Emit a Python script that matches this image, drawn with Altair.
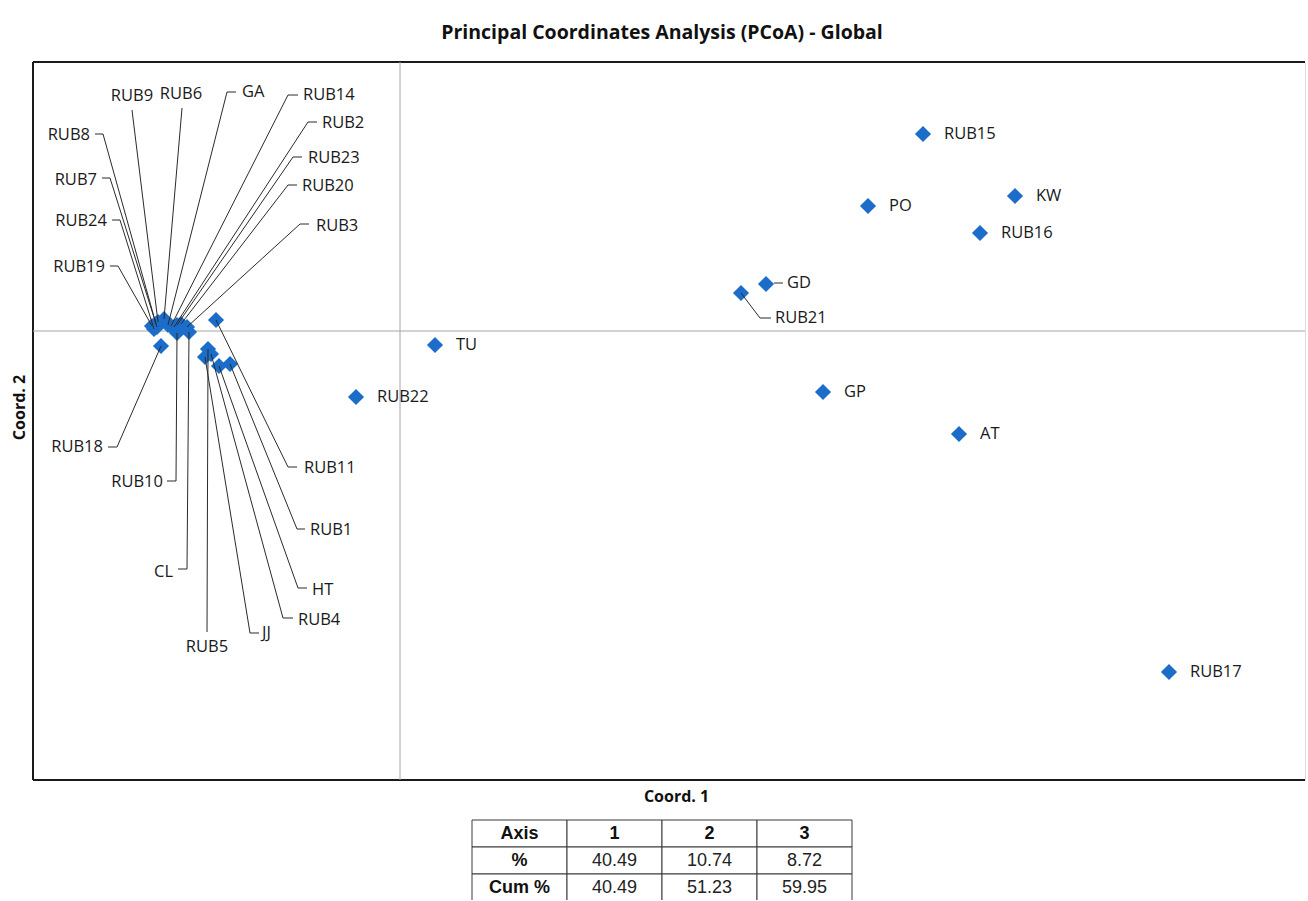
import altair as alt
import pandas as pd

# ---------------- data ----------------
names = ["RUB1", "RUB2", "RUB3", "RUB4", "RUB5", "RUB6", "RUB7", "RUB8", "RUB9", "RUB10",
         "RUB11", "RUB14", "RUB15", "RUB16", "RUB17", "RUB18", "RUB19", "RUB20", "RUB21", "RUB22",
         "RUB23", "RUB24", "GA", "CL", "HT", "JJ", "TU", "GD", "GP", "AT", "KW", "PO"]
coord1 = [-0.170, -0.226, -0.213, -0.189, -0.192, -0.236, -0.243, -0.244, -0.242, -0.223,
          -0.184, -0.229, 0.523, 0.580, 0.769, -0.239, -0.248, -0.219, 0.341, -0.044,
          -0.223, -0.246, -0.232, -0.211, -0.181, -0.195, 0.035, 0.366, 0.423, 0.559, 0.615, 0.468]
coord2 = [-0.033, 0.004, 0.004, -0.023, -0.018, 0.012, 0.004, 0.007, 0.009, -0.002,
          0.011, 0.005, 0.197, 0.098, -0.341, -0.015, 0.005, 0.007, 0.038, -0.066,
          0.006, 0.002, 0.006, -0.001, -0.035, -0.026, -0.014, 0.047, -0.061, -0.103, 0.135, 0.125]

# labels written right beside their point
side_labels = ["RUB15", "PO", "KW", "RUB16", "TU", "RUB22", "GP", "AT", "RUB17"]

# labels moved away from their point, joined by a leader line (label layout, in axis units)
callout_names = ["RUB9", "RUB6", "GA", "RUB14", "RUB2", "RUB23", "RUB20", "RUB3",
                 "RUB8", "RUB7", "RUB24", "RUB19", "RUB18", "RUB10", "CL",
                 "RUB5", "JJ", "RUB4", "HT", "RUB1", "RUB11", "GD", "RUB21"]
callout_text_x = [-0.268, -0.219, -0.158, -0.097, -0.078, -0.092, -0.098, -0.084,
                  -0.310, -0.303, -0.293, -0.295, -0.297, -0.237, -0.227,
                  -0.193, -0.138, -0.102, -0.088, -0.090, -0.096, 0.387, 0.375]
callout_text_y = [0.235, 0.237, 0.239, 0.236, 0.208, 0.173, 0.145, 0.105,
                  0.196, 0.151, 0.110, 0.064, -0.116, -0.151, -0.241,
                  -0.316, -0.302, -0.289, -0.259, -0.199, -0.137, 0.048, 0.013]
callout_align = ["center", "center", "left", "left", "left", "left", "left", "left",
                 "right", "right", "right", "right", "right", "right", "right",
                 "center", "left", "left", "left", "left", "left", "left", "left"]
callout_elbow_x = [-0.268, -0.218, -0.173, -0.112, -0.092, -0.107, -0.112, -0.100,
                   -0.297, -0.290, -0.280, -0.282, -0.283, -0.224, -0.213,
                   -0.193, -0.150, -0.117, -0.102, -0.103, -0.112, 0.374, 0.360]
callout_elbow_y = [0.221, 0.223, 0.239, 0.236, 0.209, 0.174, 0.146, 0.107,
                   0.197, 0.153, 0.111, 0.065, -0.116, -0.150, -0.238,
                   -0.301, -0.302, -0.287, -0.257, -0.198, -0.136, 0.048, 0.013]
callout_stub_x = [-0.268, -0.218, -0.164, -0.102, -0.083, -0.098, -0.103, -0.091,
                  -0.305, -0.298, -0.288, -0.290, -0.292, -0.233, -0.222,
                  -0.193, -0.141, -0.107, -0.093, -0.095, -0.103, 0.383, 0.371]
stub_only = ["GD"]

# eigenvalue table
table_axes = ["1", "2", "3"]
table_pct = ["40.49", "10.74", "8.72"]
table_cum = ["40.49", "51.23", "59.95"]

# ---------------- tables ----------------
points = pd.DataFrame({"name": names, "c1": coord1, "c2": coord2})
callouts = pd.DataFrame({
    "name": callout_names, "tx": callout_text_x, "ty": callout_text_y,
    "align": callout_align, "ex": callout_elbow_x, "ey": callout_elbow_y,
    "sx": callout_stub_x,
}).merge(points, on="name")
callouts["stub_only"] = callouts["name"].isin(stub_only)
side = points[points["name"].isin(side_labels)]

cells = []
rows = [("Axis", table_axes), ("%", table_pct), ("Cum %", table_cum)]
for r, (head, vals) in enumerate(rows):
    cells.append({"row": r, "col": 0, "text": head, "bold": True})
    for c, v in enumerate(vals):
        cells.append({"row": r, "col": c + 1, "text": v, "bold": r == 0})
cells = pd.DataFrame(cells)

W, H = 1272, 718
xs = alt.Scale(domain=[-0.367, 0.905], nice=False, zero=False)
ys = alt.Scale(domain=[-0.449, 0.269], nice=False, zero=False)
BLUE = "#1C6DC9"
FONT = "Open Sans"

x_axis = alt.Axis(title="Coord. 1", labels=False, ticks=False, domain=False, grid=False,
                  titleFont=FONT, titleFontSize=16, titleFontWeight="bold", titleColor="#111",
                  titlePadding=8, titleX=643)
y_axis = alt.Axis(title="Coord. 2", labels=False, ticks=False, domain=False, grid=False,
                  titleFont=FONT, titleFontSize=16, titleFontWeight="bold", titleColor="#111",
                  titlePadding=6, titleY=345)


def X(field):
    return alt.X(field, scale=xs, axis=x_axis, title="Coord. 1")


def Y(field):
    return alt.Y(field, scale=ys, axis=y_axis, title="Coord. 2")


frame_color = "#1a1a1a"
frame_left = alt.Chart(points).mark_rule(color=frame_color, strokeWidth=2).encode(
    x=alt.value(0), y=alt.value(0), y2=alt.value(H))
frame_top = alt.Chart(points).mark_rule(color=frame_color, strokeWidth=2).encode(
    x=alt.value(0), x2=alt.value(W), y=alt.value(0))
frame_bottom = alt.Chart(points).mark_rule(color=frame_color, strokeWidth=2).encode(
    x=alt.value(0), x2=alt.value(W), y=alt.value(H))

zero_df = pd.DataFrame({"z": [0.0]})
zero_v = alt.Chart(zero_df).mark_rule(color="#a6a6a6", strokeWidth=1).encode(x=X("z:Q"))
zero_h = alt.Chart(zero_df).mark_rule(color="#a6a6a6", strokeWidth=1).encode(y=Y("z:Q"))

pts = alt.Chart(points).mark_point(shape="diamond", filled=True, size=260,
                                   color=BLUE, opacity=1).encode(x=X("c1:Q"), y=Y("c2:Q"))

lead_a = alt.Chart(callouts).transform_filter("!datum.stub_only").mark_rule(
    color="#2a2a2a", strokeWidth=1).encode(x=X("c1:Q"), y=Y("c2:Q"), x2="ex:Q", y2="ey:Q")
lead_b = alt.Chart(callouts).mark_rule(color="#2a2a2a", strokeWidth=1).encode(
    x=X("ex:Q"), y=Y("ey:Q"), x2="sx:Q")

side_text = alt.Chart(side).mark_text(align="left", baseline="middle", dx=21,
                                      font=FONT, fontSize=16.5, color="#1a1a1a").encode(
    x=X("c1:Q"), y=Y("c2:Q"), text="name:N")

call_texts = []
for al in ["left", "right", "center"]:
    call_texts.append(
        alt.Chart(callouts).transform_filter(f"datum.align == '{al}'").mark_text(
            align=al, baseline="middle", font=FONT, fontSize=16.5, color="#1a1a1a").encode(
            x=X("tx:Q"), y=Y("ty:Q"), text="name:N"))

main = alt.layer(frame_left, frame_top, frame_bottom, zero_v, zero_h, pts,
                 lead_a, lead_b, side_text, *call_texts)

tx_scale = alt.Scale(domain=[0, 1, 2, 3], range=[439, 819], paddingInner=0, paddingOuter=0)
ty_scale = alt.Scale(domain=[0, 1, 2], range=[758, 839], paddingInner=0, paddingOuter=0)
cell_rect = alt.Chart(cells).mark_rect(fill="white", stroke="#3a3a3a", strokeWidth=1).encode(
    x=alt.X("col:O", scale=tx_scale, axis=None),
    y=alt.Y("row:O", scale=ty_scale, axis=None))
cell_bold = alt.Chart(cells).transform_filter("datum.bold").mark_text(
    font="Liberation Sans", fontSize=18, fontWeight="bold", color="#111").encode(
    x=alt.X("col:O", scale=tx_scale, axis=None),
    y=alt.Y("row:O", scale=ty_scale, axis=None), text="text:N")
cell_reg = alt.Chart(cells).transform_filter("!datum.bold").mark_text(
    font="Liberation Sans", fontSize=18, color="#222").encode(
    x=alt.X("col:O", scale=tx_scale, axis=None),
    y=alt.Y("row:O", scale=ty_scale, axis=None), text="text:N")
table = alt.layer(cell_rect, cell_bold, cell_reg)

chart = alt.layer(main, table).resolve_scale(x="independent", y="independent").properties(
    width=W, height=H,
    title=alt.TitleParams(
        text="Principal Coordinates Analysis (PCoA) - Global", font=FONT, fontSize=19.5,
        fontWeight="bold", color="#111", anchor="middle", frame="group",
        baseline="alphabetic", offset=3, dx=-7),
    autosize=alt.AutoSizeParams(type="none"),
    padding={"left": 33, "top": 62, "right": 2, "bottom": 120},
).configure_view(stroke=None).configure(background="white")

chart.save("out.html", embed_options={"renderer": "svg", "actions": False})
